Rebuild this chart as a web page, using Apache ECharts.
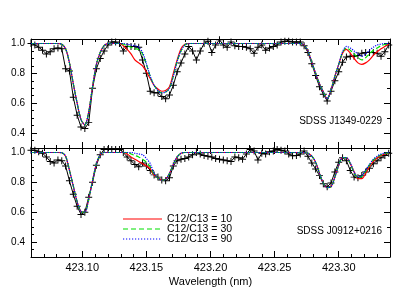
<!DOCTYPE html>
<html><head><meta charset="utf-8">
<script src="https://cdn.jsdelivr.net/npm/echarts@6/dist/echarts.min.js"></script>
<style>html,body{margin:0;padding:0;background:#fff}#c{width:415px;height:297px}</style>
</head><body><div id="c"></div><script>
const wavelength = [
423.060,423.063,423.066,423.069,423.072,423.075,423.078,423.081,423.084,423.087,
423.090,423.093,423.096,423.099,423.102,423.105,423.108,423.111,423.114,423.117,
423.120,423.123,423.126,423.129,423.132,423.135,423.138,423.141,423.144,423.147,
423.150,423.153,423.156,423.159,423.162,423.165,423.168,423.171,423.174,423.177,
423.180,423.183,423.186,423.189,423.192,423.195,423.198,423.201,423.204,423.207,
423.210,423.213,423.216,423.219,423.222,423.225,423.228,423.231,423.234,423.237,
423.240,423.243,423.246,423.249,423.252,423.255,423.258,423.261,423.264,423.267,
423.270,423.273,423.276,423.279,423.282,423.285,423.288,423.291,423.294,423.297,
423.300,423.303,423.306,423.309,423.312,423.315,423.318,423.321,423.324,423.327,
423.330,423.333,423.336,423.339];

const topObserved = [
1.00,0.99,0.975,0.955,0.93,0.945,0.965,0.97,0.965,0.83,
0.815,0.64,0.52,0.44,0.43,0.47,0.70,0.83,0.90,0.95,
0.99,1.01,1.01,1.00,0.95,0.98,0.98,0.98,0.975,0.89,
0.80,0.68,0.67,0.67,0.645,0.63,0.655,0.72,0.81,0.87,
0.93,0.98,0.95,0.89,0.95,1.00,1.015,0.94,0.99,1.025,
0.99,0.975,1.01,0.985,0.98,0.98,0.975,0.965,0.935,0.975,
0.99,0.955,0.97,0.98,0.99,1.01,1.015,1.015,1.01,1.01,
1.01,0.985,0.94,0.865,0.785,0.71,0.66,0.615,0.68,0.75,
0.81,0.875,0.91,0.915,0.915,0.92,0.935,0.94,0.94,0.94,
0.935,0.915,0.945,0.99];

const topModel10 = [
1.0,1.0,1.0,1.0,1.0,1.0,1.0,1.0,0.995,0.965,
0.87,0.73,0.60,0.49,0.455,0.54,0.71,0.86,0.94,0.985,
1.0,1.0,1.0,1.0,0.985,0.96,0.93,0.89,0.87,0.85,
0.81,0.765,0.72,0.695,0.68,0.685,0.71,0.80,0.89,0.965,
0.995,1.0,1.0,1.0,1.0,1.0,1.0,1.0,1.0,1.0,
1.0,1.0,1.0,1.0,1.0,1.0,1.0,1.0,1.0,1.0,
1.0,1.0,1.0,1.0,1.0,1.0,1.0,1.0,1.0,1.0,
1.0,0.99,0.95,0.875,0.80,0.73,0.675,0.63,0.69,0.78,
0.86,0.935,0.96,0.935,0.90,0.87,0.86,0.87,0.89,0.92,
0.945,0.965,0.98,0.995];

const topModel30 = [
1.0,1.0,1.0,1.0,1.0,1.0,1.0,1.0,0.995,0.965,
0.87,0.73,0.60,0.49,0.455,0.54,0.71,0.86,0.94,0.985,
1.0,1.0,1.0,1.0,0.995,0.985,0.975,0.965,0.96,0.93,
0.86,0.78,0.72,0.685,0.67,0.675,0.70,0.78,0.88,0.95,
0.99,1.0,1.0,1.0,1.0,1.0,1.0,1.0,1.0,1.0,
1.0,1.0,1.0,1.0,1.0,1.0,1.0,1.0,1.0,1.0,
1.0,1.0,1.0,1.0,1.0,1.0,1.0,1.0,1.0,1.0,
1.0,0.99,0.95,0.875,0.80,0.73,0.675,0.63,0.69,0.78,
0.86,0.94,0.97,0.955,0.93,0.905,0.89,0.905,0.93,0.955,
0.97,0.985,0.993,1.0];

const topModel90 = [
1.0,1.0,1.0,1.0,1.0,1.0,1.0,1.0,0.995,0.965,
0.87,0.73,0.60,0.49,0.455,0.54,0.71,0.86,0.94,0.985,
1.0,1.0,1.0,1.0,1.0,0.995,0.99,0.985,0.975,0.94,
0.865,0.78,0.72,0.685,0.67,0.675,0.70,0.78,0.88,0.95,
0.99,1.0,1.0,1.0,1.0,1.0,1.0,1.0,1.0,1.0,
1.0,1.0,1.0,1.0,1.0,1.0,1.0,1.0,1.0,1.0,
1.0,1.0,1.0,1.0,1.0,1.0,1.0,1.0,1.0,1.0,
1.0,0.99,0.95,0.875,0.80,0.73,0.675,0.63,0.69,0.78,
0.86,0.945,0.98,0.97,0.95,0.93,0.915,0.93,0.955,0.975,
0.99,0.995,1.0,1.0];

const bottomObserved = [
1.015,1.015,1.005,0.995,0.97,0.94,0.93,0.95,0.945,0.91,
0.81,0.72,0.64,0.585,0.60,0.70,0.80,0.915,0.985,1.02,
1.02,1.02,1.02,1.02,1.0,0.97,0.945,0.92,0.905,0.93,
0.91,0.88,0.85,0.835,0.815,0.81,0.83,0.91,0.945,0.955,
0.96,0.97,0.985,1.0,0.99,0.98,0.975,0.97,0.96,0.955,
0.95,0.945,0.94,0.97,0.965,0.955,0.99,1.02,1.01,0.95,
0.995,0.99,1.005,1.01,1.02,1.015,1.01,0.99,0.978,0.98,
0.99,1.01,0.975,0.93,0.89,0.845,0.79,0.77,0.795,0.87,
0.935,0.965,0.945,0.88,0.835,0.83,0.845,0.87,0.895,0.925,
0.945,0.965,0.98,0.995];

const bottomModel10 = [
1.0,1.0,1.0,1.0,1.0,1.0,1.0,1.0,0.998,0.975,
0.88,0.775,0.67,0.605,0.60,0.69,0.81,0.925,0.985,1.0,
1.0,1.0,1.0,1.0,1.0,0.99,0.97,0.955,0.94,0.925,
0.91,0.89,0.85,0.83,0.815,0.82,0.86,0.92,0.97,0.995,
1.0,1.0,1.0,1.0,1.0,1.0,1.0,1.0,1.0,1.0,
1.0,1.0,1.0,1.0,1.0,1.0,1.0,1.0,1.0,1.0,
1.0,1.0,1.0,1.0,1.0,1.0,1.0,1.0,1.0,1.0,
1.0,1.0,0.995,0.975,0.935,0.86,0.795,0.765,0.77,0.835,
0.915,0.965,0.965,0.925,0.87,0.825,0.825,0.86,0.905,0.94,
0.965,0.98,0.99,0.995];

const bottomModel30 = [
1.0,1.0,1.0,1.0,1.0,1.0,1.0,1.0,0.998,0.975,
0.88,0.775,0.67,0.605,0.60,0.69,0.81,0.925,0.985,1.0,
1.0,1.0,1.0,1.0,1.0,1.0,0.99,0.98,0.97,0.955,
0.935,0.905,0.855,0.83,0.815,0.82,0.86,0.92,0.97,0.995,
1.0,1.0,1.0,1.0,1.0,1.0,1.0,1.0,1.0,1.0,
1.0,1.0,1.0,1.0,1.0,1.0,1.0,1.0,1.0,1.0,
1.0,1.0,1.0,1.0,1.0,1.0,1.0,1.0,1.0,1.0,
1.0,1.0,0.995,0.975,0.935,0.86,0.795,0.765,0.77,0.835,
0.915,0.965,0.965,0.925,0.865,0.83,0.84,0.875,0.915,0.95,
0.97,0.985,0.993,0.997];

const bottomModel90 = [
1.0,1.0,1.0,1.0,1.0,1.0,1.0,1.0,0.998,0.975,
0.88,0.775,0.67,0.605,0.60,0.69,0.81,0.925,0.985,1.0,
1.0,1.0,1.0,1.0,1.0,1.0,1.0,0.995,0.99,0.985,
0.96,0.925,0.86,0.83,0.815,0.82,0.86,0.92,0.97,0.995,
1.0,1.0,1.0,1.0,1.0,1.0,1.0,1.0,1.0,1.0,
1.0,1.0,1.0,1.0,1.0,1.0,1.0,1.0,1.0,1.0,
1.0,1.0,1.0,1.0,1.0,1.0,1.0,1.0,1.0,1.0,
1.0,1.0,0.995,0.975,0.935,0.86,0.795,0.765,0.77,0.835,
0.915,0.965,0.965,0.93,0.87,0.835,0.845,0.88,0.92,0.955,
0.975,0.99,0.995,1.0];

const xTickLabels = ['423.10','423.15','423.20','423.25','423.30'];
const yTickLabels = ['0.4','0.6','0.8','1.0'];
const legendNames = ['C12/C13 = 10','C12/C13 = 30','C12/C13 = 90'];
const starNames = ['SDSS J1349-0229','SDSS J0912+0216'];
const xAxisTitle = 'Wavelength (nm)';

const FONT = 'Liberation Sans, Arial, sans-serif';
const X_MIN = 423.06, X_MAX = 423.34, Y_MIN = 0.3, Y_MAX = 1.03;
const xMajor = xTickLabels.map(Number);
const yMajor = yTickLabels.map(Number);
const modelColors = ['#ff0000', '#00e000', '#0000ff'];
const modelTypes = ['solid', 'dashed', 'dotted'];
const modelDash = [null, [5, 3], [1.2, 1.8]];
const panels = [
  {obs: topObserved, models: [topModel10, topModel30, topModel90]},
  {obs: bottomObserved, models: [bottomModel10, bottomModel30, bottomModel90]}
];
const grids = [
  {left: 31, top: 39, width: 359, height: 109},
  {left: 31, top: 148, width: 359, height: 109}
];
const line = {show: true, onZero: false, lineStyle: {color: '#000', width: 1}};
const noLine = {show: false, onZero: false};
const xAxes = [], yAxes = [], series = [];
grids.forEach((g, gi) => {
  const base = {gridIndex: gi, type: 'value', min: X_MIN, max: X_MAX, splitLine: {show: false}};
  xAxes.push(Object.assign({}, base, {
    position: 'bottom', interval: 0.01, axisLine: line,
    axisTick: {inside: true, length: 3, lineStyle: {color: '#000'}},
    axisLabel: gi === 1 ? {show: true, customValues: xMajor, formatter: v => v.toFixed(2),
      margin: 5, fontSize: 11, color: '#000', fontFamily: FONT} : {show: false},
    name: gi === 1 ? xAxisTitle : '', nameLocation: 'middle', nameGap: 19,
    nameTextStyle: {fontSize: 11, color: '#000', fontFamily: FONT}
  }));
  xAxes.push(Object.assign({}, base, {
    position: 'bottom', axisLine: noLine,
    axisTick: {inside: true, length: 6, customValues: xMajor, lineStyle: {color: '#000'}},
    axisLabel: {show: false}
  }));
  xAxes.push(Object.assign({}, base, {
    position: 'top', interval: 0.01, axisLine: line,
    axisTick: {inside: true, length: 3, lineStyle: {color: '#000'}},
    axisLabel: {show: false}
  }));
  xAxes.push(Object.assign({}, base, {
    position: 'top', axisLine: noLine,
    axisTick: {inside: true, length: 6, customValues: xMajor, lineStyle: {color: '#000'}},
    axisLabel: {show: false}
  }));
  const ybase = {gridIndex: gi, type: 'value', min: Y_MIN, max: Y_MAX, splitLine: {show: false}};
  yAxes.push(Object.assign({}, ybase, {
    position: 'left', interval: 0.05, axisLine: line,
    axisTick: {inside: true, length: 3, lineStyle: {color: '#000'}},
    axisLabel: {show: true, customValues: yMajor, formatter: v => v.toFixed(1),
      margin: 6, fontSize: 10, color: '#000', fontFamily: FONT}
  }));
  yAxes.push(Object.assign({}, ybase, {
    position: 'left', axisLine: noLine,
    axisTick: {inside: true, length: 6, customValues: yMajor, lineStyle: {color: '#000'}},
    axisLabel: {show: false}
  }));
  yAxes.push(Object.assign({}, ybase, {
    position: 'right', interval: 0.1, axisLine: line,
    axisTick: {inside: true, length: 3, lineStyle: {color: '#000'}},
    axisLabel: {show: false}
  }));
  yAxes.push(Object.assign({}, ybase, {
    position: 'right', axisLine: noLine,
    axisTick: {inside: true, length: 6, customValues: yMajor, lineStyle: {color: '#000'}},
    axisLabel: {show: false}
  }));
  const p = panels[gi];
  series.push({
    type: 'line', xAxisIndex: gi * 4, yAxisIndex: gi * 4,
    data: wavelength.map((w, i) => [w, p.obs[i]]),
    symbol: 'path://M4.3,0H5.7V4.3H10V5.7H5.7V10H4.3V5.7H0V4.3H4.3Z',
    symbolSize: 7, showSymbol: true, showAllSymbol: true,
    lineStyle: {color: '#000', width: 1}, itemStyle: {color: '#000'},
    silent: true, z: 2
  });
  p.models.forEach((m, mi) => {
    series.push({
      name: legendNames[mi], type: 'line', xAxisIndex: gi * 4, yAxisIndex: gi * 4,
      data: wavelength.map((w, i) => [w, m[i]]),
      symbol: 'none', smooth: 0.3,
      lineStyle: {color: modelColors[mi], width: 1.2, type: modelTypes[mi]},
      itemStyle: {color: modelColors[mi]}, silent: true, z: 3 + mi
    });
  });
});

// legend key drawn as graphic elements (line samples + labels)
const legendGraphics = [];
legendNames.forEach((n, i) => {
  const y = 219 + i * 10;
  legendGraphics.push({
    type: 'line', shape: {x1: 123, y1: y, x2: 162, y2: y},
    style: {stroke: modelColors[i], lineWidth: 1.2, lineDash: modelDash[i]}, silent: true
  });
  legendGraphics.push({
    type: 'text', x: 167, y: y,
    style: {text: n, fill: '#000', font: '10.5px ' + FONT, textVerticalAlign: 'middle', verticalAlign: 'middle'},
    silent: true
  });
});

const chart = echarts.init(document.getElementById('c'), null, {renderer: 'canvas'});
chart.setOption({
  animation: false,
  backgroundColor: '#fff',
  grid: grids,
  xAxis: xAxes,
  yAxis: yAxes,
  series: series,
  graphic: [
    {type: 'text', right: 415 - 382, top: 116, style: {text: starNames[0], fill: '#000', font: '10px ' + FONT}},
    {type: 'text', right: 415 - 382, top: 226, style: {text: starNames[1], fill: '#000', font: '10px ' + FONT}}
  ].concat(legendGraphics)
});
</script></body></html>
